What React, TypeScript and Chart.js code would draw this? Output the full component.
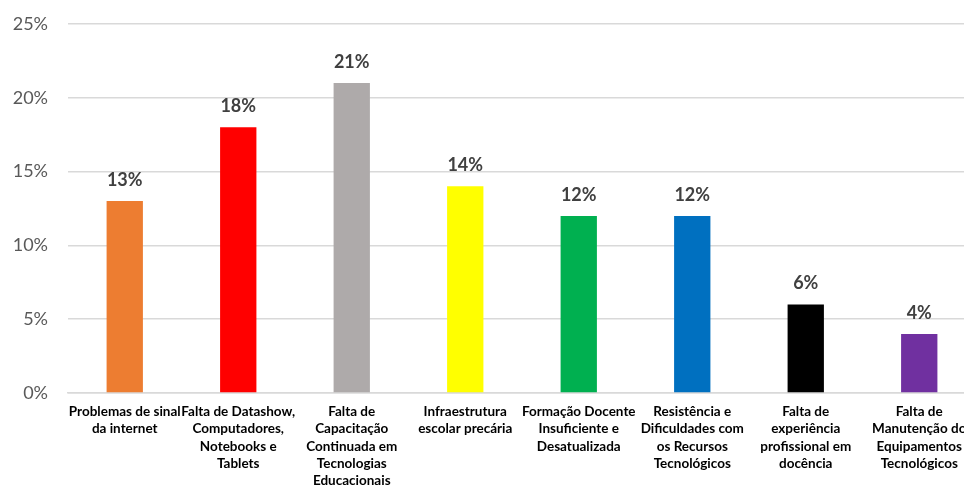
import React, { useEffect, useRef } from "react";
import { Chart, registerables } from "chart.js";

Chart.register(...registerables);

const categories: string[][] = [
  ["Problemas de sinal", "da internet"],
  ["Falta de Datashow,", "Computadores,", "Notebooks e", "Tablets"],
  ["Falta de", "Capacitação", "Continuada em", "Tecnologias", "Educacionais"],
  ["Infraestrutura", "escolar precária"],
  ["Formação Docente", "Insuficiente e", "Desatualizada"],
  ["Resistência e", "Dificuldades com", "os Recursos", "Tecnológicos"],
  ["Falta de", "experiência", "profissional em", "docência"],
  ["Falta de", "Manutenção do", "Equipamentos", "Tecnológicos"],
];
const values: number[] = [13, 18, 21, 14, 12, 12, 6, 4];
const barColors: string[] = [
  "#ED7D31",
  "#FF0000",
  "#AEAAAA",
  "#FFFF00",
  "#00B050",
  "#0070C0",
  "#000000",
  "#7030A0",
];
const yMax = 25;
const yStep = 5;

const valueLabelPlugin = {
  id: "valueLabels",
  afterDatasetsDraw(chart: any) {
    const ctx = chart.ctx;
    const meta = chart.getDatasetMeta(0);
    const data = chart.data.datasets[0].data as number[];
    ctx.save();
    ctx.font = "bold 18px Lato";
    ctx.fillStyle = "#404040";
    ctx.textAlign = "center";
    ctx.textBaseline = "alphabetic";
    meta.data.forEach((bar: any, i: number) => {
      ctx.fillText(data[i] + "%", bar.x, bar.y - 15);
    });
    ctx.restore();
  },
};

export default function App() {
  const ref = useRef<HTMLCanvasElement>(null);
  useEffect(() => {
    if (!ref.current) return;
    document.body.style.overflow = "hidden";
    const chart = new Chart(ref.current, {
      type: "bar",
      data: {
        labels: categories,
        datasets: [
          {
            data: values,
            backgroundColor: barColors,
            borderWidth: 0,
            categoryPercentage: 1,
            barPercentage: 0.32,
          },
        ],
      },
      options: {
        responsive: false,
        animation: false,
        layout: { padding: { top: 24, right: 14, left: 0, bottom: 0 } },
        plugins: {
          legend: { display: false },
          tooltip: { enabled: false },
          title: { display: false },
        },
        scales: {
          x: {
            grid: { display: false, drawTicks: false },
            border: { display: true, color: "#d9d9d9", width: 1.5 },
            ticks: {
              autoSkip: false,
              maxRotation: 0,
              minRotation: 0,
              padding: 10,
              color: "#000000",
              font: { family: "Lato", size: 13.5, weight: "bold", lineHeight: 1.28 },
            },
            afterFit: (scale: any) => {
              scale.height = 94;
              scale.paddingLeft = 0;
              scale.paddingRight = 0;
              scale.paddingTop = 0;
              scale.paddingBottom = 0;
            },
          },
          y: {
            min: 0,
            max: yMax,
            ticks: {
              stepSize: yStep,
              padding: 20,
              color: "#595959",
              font: { family: "Lato", size: 18 },
              callback: (v: any) => v + "%",
            },
            grid: { color: "#d9d9d9", lineWidth: 1.5, drawTicks: false },
            border: { display: false },
            afterFit: (scale: any) => {
              scale.width = 68;
              scale.paddingTop = 0;
              scale.paddingBottom = 0;
              scale.paddingLeft = 0;
              scale.paddingRight = 0;
            },
          },
        },
      },
      plugins: [valueLabelPlugin],
    });
    return () => chart.destroy();
  }, []);
  return (
    <div
      style={{
        position: "fixed",
        left: 0,
        top: 0,
        width: 964,
        height: 487,
        overflow: "hidden",
        background: "#ffffff",
      }}
    >
      <canvas ref={ref} width={990} height={487} style={{ display: "block" }} />
    </div>
  );
}
